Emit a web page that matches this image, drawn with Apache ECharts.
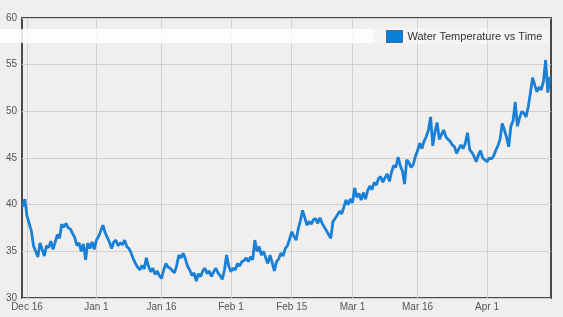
<!DOCTYPE html>
<html>
<head>
<meta charset="utf-8">
<script src="https://cdn.jsdelivr.net/npm/echarts@6/dist/echarts.min.js"></script>
<style>
html,body{margin:0;padding:0;background:#f1eeee;}
#c{width:563px;height:317px;}
</style>
</head>
<body>
<div id="c"></div>
<script>
// ---- data ----
const seriesName = 'Water Temperature vs Time';
const startDate = '2014-12-15';        // first reading: Dec 15, 2014 00:00 (UTC)
const stepHours = 12;                   // readings every 12 hours
const temperatures = [
  39.8,40.6,38.8,38.0,37.2,35.6,35.0,34.4,35.9,35.2,
  34.5,35.6,35.4,36.1,35.2,36.0,36.8,36.4,37.9,37.6,
  38.0,37.5,37.4,36.9,36.5,35.6,35.9,35.0,35.8,34.1,
  35.9,35.3,36.0,35.2,36.2,36.6,37.2,37.8,37.0,36.5,
  36.0,35.3,36.0,36.2,35.6,35.9,35.7,36.2,35.5,35.3,
  34.8,34.2,33.7,33.3,33.0,33.5,33.1,34.3,33.4,32.8,
  33.2,32.5,32.9,32.4,32.1,33.0,33.7,33.3,33.2,32.9,
  32.7,33.5,34.6,34.3,34.8,34.2,33.4,33.0,32.4,32.7,
  31.8,32.6,32.3,32.9,33.2,32.6,32.9,32.3,32.8,33.2,
  32.7,32.4,32.0,33.0,34.6,33.4,32.8,33.2,33.0,33.7,
  33.4,33.9,34.0,34.3,33.9,34.4,34.1,36.2,35.0,35.5,
  34.6,35.0,34.3,33.7,34.6,33.8,32.9,33.9,34.2,34.8,
  34.5,35.3,35.6,36.3,37.1,36.6,36.2,37.4,38.3,39.4,
  38.6,37.8,38.2,37.9,38.4,38.5,38.0,38.6,38.0,37.6,
  37.2,36.8,36.4,38.2,38.5,38.9,39.3,39.0,39.7,40.5,
  40.0,40.6,40.2,41.8,40.8,41.2,40.5,41.3,40.6,41.5,
  42.0,41.6,42.4,42.1,42.8,43.0,42.4,42.9,43.3,42.5,
  43.5,44.2,44.0,45.1,44.2,43.6,42.2,44.8,44.5,44.0,
  44.3,45.2,45.8,46.6,46.0,46.8,47.3,48.0,49.4,46.3,
  47.8,48.8,47.0,47.5,48.0,47.3,47.0,46.8,46.4,46.2,
  45.5,46.0,46.4,46.0,46.6,47.7,45.9,45.6,45.2,44.6,
  45.3,45.8,45.0,44.8,44.6,45.0,44.9,45.2,45.8,46.3,
  47.0,48.7,48.0,47.2,46.2,48.4,49.0,51.0,48.4,49.3,
  50.0,49.8,49.4,50.5,52.0,53.6,52.8,52.1,52.6,52.3,
  53.2,55.5,52.0,53.7
];
const tickDates = ['2014-12-16','2015-01-01','2015-01-16','2015-02-01','2015-02-15','2015-03-01','2015-03-16','2015-04-01'];
const tickLabels = ['Dec 16','Jan 1','Jan 16','Feb 1','Feb 15','Mar 1','Mar 16','Apr 1'];
const xRange = ['2014-12-14T20:24:00Z','2015-04-15T17:45:00Z'];
const yTicks = [30,35,40,45,50,55,60];

// ---- build ----
const DAY = 86400000;
const epoch = Date.parse(tickDates[0] + 'T00:00:00Z');           // axis unit: days since Dec 16
const toDays = iso => (Date.parse(iso) - epoch) / DAY;
const startDays = toDays(startDate + 'T00:00:00Z');
const seriesData = temperatures.map((v, i) => [startDays + i * stepHours / 24, v]);
const tickValues = tickDates.map(d => toDays(d + 'T00:00:00Z'));
const labelFor = {};
tickValues.forEach((t, i) => { labelFor[t] = tickLabels[i]; });

const chart = echarts.init(document.getElementById('c'), null, {renderer: 'canvas'});
chart.setOption({
  animation: false,
  backgroundColor: '#f1eeee',
  textStyle: {fontFamily: 'Liberation Sans, Arial, sans-serif'},
  grid: {left: 22, right: 12, top: 18, bottom: 19, show: true, borderColor: '#4a4a4a', borderWidth: 2, backgroundColor: 'transparent'},
  graphic: [
    {type: 'rect', left: 0, top: 29, shape: {width: 373, height: 14}, style: {fill: 'rgba(255,255,255,0.85)'}, z: 5},
    {type: 'rect', left: 373, top: 28, shape: {width: 176, height: 16}, style: {fill: 'rgba(255,255,255,0.35)'}, z: 5}
  ],
  legend: {
    show: true, left: 386, top: 30, padding: 0, itemWidth: 16, itemHeight: 12, itemGap: 10,
    icon: 'rect', z: 10,
    textStyle: {fontSize: 11, color: '#333'},
    itemStyle: {borderColor: '#3a6a9a', borderWidth: 1},
    data: [seriesName]
  },
  xAxis: {
    type: 'value',
    min: toDays(xRange[0]),
    max: toDays(xRange[1]),
    axisLine: {show: false},
    axisTick: {show: false, customValues: tickValues},
    splitLine: {show: true, lineStyle: {color: '#d2cece', width: 1}},
    axisLabel: {
      customValues: tickValues,
      formatter: v => labelFor[v] || '',
      color: '#555', fontSize: 10, margin: 4, hideOverlap: false, showMinLabel: true, showMaxLabel: true
    }
  },
  yAxis: {
    type: 'value', min: yTicks[0], max: yTicks[yTicks.length - 1], interval: 5,
    axisLine: {show: false}, axisTick: {show: false},
    splitLine: {show: true, lineStyle: {color: '#d2cece', width: 1}},
    axisLabel: {color: '#555', fontSize: 10, margin: 5}
  },
  series: [{
    name: seriesName, type: 'line', data: seriesData, showSymbol: false, symbol: 'none',
    lineStyle: {color: '#1a80d5', width: 2.8}, itemStyle: {color: '#0a7fd8'}, z: 3
  }]
});
</script>
</body>
</html>
